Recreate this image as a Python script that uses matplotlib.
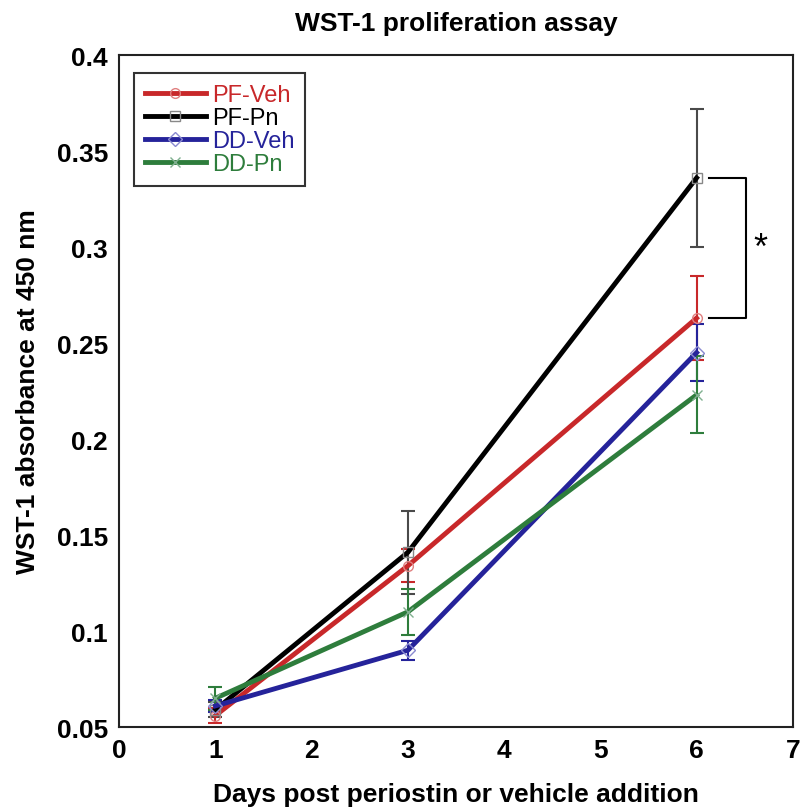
import matplotlib
matplotlib.use("Agg")
import matplotlib.pyplot as plt

plt.rcParams['font.family'] = ['Liberation Sans', 'DejaVu Sans']

days = [1, 3, 6]
series_names = ["PF-Veh", "PF-Pn", "DD-Veh", "DD-Pn"]
pf_veh = [0.056, 0.134, 0.263]
pf_veh_err = [0.004, 0.0085, 0.022]
pf_pn = [0.059, 0.141, 0.336]
pf_pn_err = [0.004, 0.0215, 0.036]
dd_veh = [0.061, 0.090, 0.245]
dd_veh_err = [0.003, 0.005, 0.015]
dd_pn = [0.065, 0.110, 0.223]
dd_pn_err = [0.006, 0.012, 0.020]
x_ticks = [0, 1, 2, 3, 4, 5, 6, 7]
y_ticks = [0.05, 0.1, 0.15, 0.2, 0.25, 0.3, 0.35, 0.4]
y_tick_labels = ["0.05", "0.1", "0.15", "0.2", "0.25", "0.3", "0.35", "0.4"]

line_colors = ["#c8282a", "#000000", "#25239a", "#2e7d3c"]
err_colors = ["#c8282a", "#4a4a4a", "#25239a", "#2e7d3c"]
marker_edge = ["#e08080", "#888888", "#8a8ad0", "#80b090"]
markers = ["o", "s", "D", "x"]

fig = plt.figure(figsize=(8, 8.12), dpi=100)
ax = fig.add_axes([0.149, 0.1034, 0.842, 0.8276])

vals = [pf_veh, pf_pn, dd_veh, dd_pn]
errs = [pf_veh_err, pf_pn_err, dd_veh_err, dd_pn_err]
handles = []
for i in range(4):
    ax.errorbar(days, vals[i], yerr=errs[i], fmt="none", ecolor=err_colors[i],
                elinewidth=1.5, capsize=5, capthick=1.5, zorder=2)
    h, = ax.plot(days, vals[i], color=line_colors[i], lw=3.5, marker=markers[i],
                 markersize=7, markerfacecolor="none", markeredgecolor=marker_edge[i],
                 markeredgewidth=1.0, label=series_names[i], zorder=3)
    handles.append(h)

# significance bracket between PF-Pn and PF-Veh at day 6
bx0, bx1 = 6.13, 6.51
ax.plot([bx0, bx1, bx1, bx0], [pf_pn[2], pf_pn[2], pf_veh[2], pf_veh[2]],
        color="black", lw=1.5, zorder=3)
ax.text(6.66, (pf_pn[2] + pf_veh[2]) / 2, "*", fontsize=26, ha="center",
        va="center", color="black")

ax.set_xlim(0, 7)
ax.set_ylim(0.05, 0.4)
ax.set_xticks(x_ticks)
ax.set_yticks(y_ticks)
ax.set_yticklabels(y_tick_labels)
ax.tick_params(length=0, labelsize=19, pad=8)
for lab in ax.get_xticklabels() + ax.get_yticklabels():
    lab.set_fontweight("bold")
for s in ax.spines.values():
    s.set_linewidth(1.5)
    s.set_color("#222222")

ax.set_title("WST-1 proliferation assay", fontsize=19, fontweight="bold", pad=18)
ax.set_xlabel("Days post periostin or vehicle addition", fontsize=19,
              fontweight="bold", labelpad=14)
ax.set_ylabel("WST-1 absorbance at 450 nm", fontsize=19, fontweight="bold",
              labelpad=12)

leg = ax.legend(handles=handles, loc="upper left", bbox_to_anchor=(0.022, 0.973),
                fontsize=17, frameon=True, fancybox=False, handlelength=2.6,
                handletextpad=0.25, labelspacing=0.05, borderpad=0.45,
                borderaxespad=0)
leg.get_frame().set_edgecolor("black")
leg.get_frame().set_linewidth(1.5)
for t, c in zip(leg.get_texts(), line_colors):
    t.set_color(c)

fig.savefig("out.png", dpi=100)
